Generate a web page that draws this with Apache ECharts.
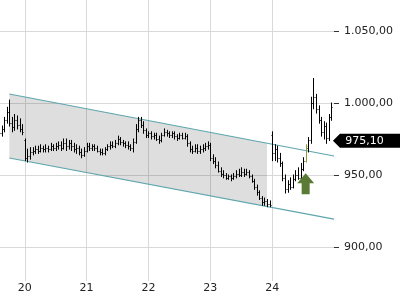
<!DOCTYPE html>
<html><head><meta charset="utf-8">
<script src="https://cdn.jsdelivr.net/npm/echarts@6/dist/echarts.min.js"></script>
<style>html,body{margin:0;padding:0;background:#fff}#c{width:400px;height:300px}</style>
</head><body><div id="c"></div>
<script>
// time slots (hourly bars), day tick labels
const dayLabels = ['20', '21', '22', '23', '24'];
const firstDay = 19, firstHour = 14, slotCount = 131;

// OHLC values
const opens = [980,979,982,988,994,986,983,988,985,982,
  974,962,963,966,967,968,967,969,968,969,968,970,969,970,971,969,972,970,972,970,968,969,966,964,
  967,970,969,970,969,967,966,965,968,970,971,970,972,975,973,972,971,970,969,973,982,988,985,981,
  978,979,977,978,975,974,978,980,979,978,979,977,976,978,976,977,972,968,967,969,967,968,969,970,
  971,962,960,957,953,951,950,948,949,948,949,951,950,952,951,952,949,946,942,938,934,931,932,930,
  978,965,968,962,958,948,940,944,942,947,950,948,954,960,969,974,1000,1004,996,988,980,984,976,990];
const closes = [979,982,988,994,986,983,988,985,982,980,
  962,963,966,967,968,967,969,968,969,968,970,969,970,971,969,972,970,972,970,968,969,966,964,967,
  970,969,970,969,967,966,965,968,970,971,970,972,975,973,972,971,970,969,973,982,988,985,981,978,
  979,977,978,975,974,978,980,979,978,979,977,976,978,976,977,972,968,967,969,967,968,969,970,971,
  962,960,957,953,951,950,948,949,948,949,951,950,952,951,952,949,946,942,938,934,931,932,930,929,
  965,968,962,958,948,940,944,942,947,950,948,954,960,970,974,1000,1004,996,988,980,984,976,990,997];
const lows = [977,977,980,986,984,980,981,982,980,978,
  960,959,961,964,965,965,966,966,966,966,967,967,967,968,967,968,967,968,967,966,965,964,962,963,
  966,967,967,967,966,964,964,964,967,968,969,969,971,971,970,969,968,967,966,972,980,983,979,976,
  976,975,975,974,972,973,977,977,976,976,975,974,975,975,975,970,966,965,966,965,965,966,967,968,
  960,958,955,952,949,948,947,947,946,947,948,949,949,949,950,948,945,940,936,933,929,929,928,928,
  960,960,959,956,946,937.5,938,940,941,946,947,947,953,959,966,972,996,993,986,977,975,972,974,988];
const highs = [982,984,990,997,1002,990,992,991,989,985,
  975,968,969,969,970,970,971,970,971,970,972,971,972,973,973,975,975,974,974,972,971,970,968,969,
  972,972,971,971,970,968,968,969,971,973,973,974,977,976,974,973,973,971,975,985,990,990,987,982,
  980,980,979,979,977,979,982,981,980,980,980,978,979,979,979,978,973,970,971,971,970,971,972,973,
  972,964,962,959,955,953,951,950,950,951,953,954,955,954,954,953,950,947,943,939,935,934,933,932,
  980,971,970,965,959,950,946,948,950,953,955,958,962,971,976,1004,1017,1006,998,990,987,986,992,1000];
const signalIndex = 119;

// channel (trend lines) and markers
const channelIdx = [4, 130];
const channelUpper = [1006.25, 963.2];
const channelLower = [961.8, 919.4];
const shadeEndIdx = 104;
const lastPrice = 975.10;
const arrowAt = [119, 944];

const categories = [];
for (let i = 0; i < slotCount; i++) {
  const t = firstHour + i;
  const d = firstDay + Math.floor(t / 24), h = t % 24;
  categories.push(d + ' ' + (h < 10 ? '0' : '') + h);
}
const isDayStart = (idx, val) => {
  const [d, h] = String(val).split(' ');
  return h === '00' && dayLabels.indexOf(d) >= 0;
};
function fmtDE(v) {
  const s = Number(v).toFixed(2);
  let [ip, fp] = s.split('.');
  ip = ip.replace(/\B(?=(\d{3})+(?!\d))/g, '.');
  return ip + ',' + fp;
}

const ohlc = opens.map((o, i) => [i, o, closes[i], lows[i], highs[i]]);

const FONT = 'DejaVu Sans';
const chart = echarts.init(document.getElementById('c'), null, { renderer: 'canvas' });
chart.setOption({
  animation: false,
  backgroundColor: '#fff',
  grid: [
    { left: -1, right: 66, top: -41, height: 360, outerBoundsMode: 'none', containLabel: false },
    { left: -1, right: 66, top: 0, bottom: 19, outerBoundsMode: 'none', containLabel: false }
  ],
  xAxis: [
    { type: 'category', data: categories, boundaryGap: false, gridIndex: 0, show: false },
    { type: 'category', data: categories, boundaryGap: false, gridIndex: 1,
      axisLine: { show: false },
      axisTick: { show: false },
      axisLabel: { interval: isDayStart, formatter: v => v.split(' ')[0], margin: 2,
        color: '#222', fontSize: 11, fontFamily: FONT },
      splitLine: { show: true, interval: isDayStart, lineStyle: { color: '#d9d9d9', width: 1 } } },
    { type: 'category', data: categories, boundaryGap: false, gridIndex: 1, offset: 19,
      axisLine: { show: false },
      axisLabel: { show: false },
      axisTick: { show: true, inside: true, length: 6, interval: isDayStart, lineStyle: { color: '#333' } },
      splitLine: { show: false } }
  ],
  yAxis: [
    { type: 'value', gridIndex: 0, position: 'right', min: 850, max: 1100, interval: 50,
      axisLine: { show: false },
      axisTick: { show: true, length: 5, lineStyle: { color: '#333' } },
      axisLabel: { formatter: fmtDE, margin: 10, color: '#222', fontSize: 11, fontFamily: FONT },
      splitLine: { lineStyle: { color: '#d9d9d9', width: 1 } } },
    { type: 'value', gridIndex: 1, show: false, splitLine: { show: false } }
  ],
  series: [
    {
      type: 'custom', xAxisIndex: 0, yAxisIndex: 0, z: 1, silent: true,
      data: [[channelIdx[0], channelUpper[0]]],
      renderItem(params, api) {
        const lerp = (a, i) => a[0] + (a[1] - a[0]) * (i - channelIdx[0]) / (channelIdx[1] - channelIdx[0]);
        const u0 = api.coord([channelIdx[0], channelUpper[0]]);
        const u1 = api.coord([channelIdx[1], channelUpper[1]]);
        const l0 = api.coord([channelIdx[0], channelLower[0]]);
        const l1 = api.coord([channelIdx[1], channelLower[1]]);
        const us = api.coord([shadeEndIdx, lerp(channelUpper, shadeEndIdx)]);
        const ls = api.coord([shadeEndIdx, lerp(channelLower, shadeEndIdx)]);
        return { type: 'group', children: [
          { type: 'polygon', shape: { points: [u0, us, ls, l0] }, style: { fill: 'rgba(0,0,0,0.13)' } },
          { type: 'line', shape: { x1: u0[0], y1: u0[1], x2: u1[0], y2: u1[1] }, style: { stroke: '#5ea6ad', lineWidth: 1.2 } },
          { type: 'line', shape: { x1: l0[0], y1: l0[1], x2: l1[0], y2: l1[1] }, style: { stroke: '#5ea6ad', lineWidth: 1.2 } }
        ] };
      }
    },
    {
      type: 'custom', xAxisIndex: 0, yAxisIndex: 0, z: 3, silent: true,
      encode: { x: 0, y: [1, 2, 3, 4] },
      data: ohlc,
      renderItem(params, api) {
        const i = api.value(0);
        const pO = api.coord([i, api.value(1)]);
        const pC = api.coord([i, api.value(2)]);
        const pL = api.coord([i, api.value(3)]);
        const pH = api.coord([i, api.value(4)]);
        const x = Math.round(pL[0]) + 0.5;
        const col = i === signalIndex ? '#8d9a40' : '#000';
        const st = { stroke: col, lineWidth: 1 };
        return { type: 'group', children: [
          { type: 'line', shape: { x1: x, y1: pH[1] - 0.5, x2: x, y2: pL[1] + 0.5 }, style: st },
          { type: 'line', shape: { x1: x - 1, y1: Math.round(pO[1]) + 0.5, x2: x, y2: Math.round(pO[1]) + 0.5 }, style: st },
          { type: 'line', shape: { x1: x, y1: Math.round(pC[1]) + 0.5, x2: x + 1, y2: Math.round(pC[1]) + 0.5 }, style: st }
        ] };
      },
      markPoint: {
        silent: true,
        data: [
          { coord: arrowAt, symbol: 'path://M8.5,0 L17,10 L12.5,10 L12.5,21 L4.5,21 L4.5,10 L0,10 Z',
            symbolSize: [17, 21], itemStyle: { color: '#5b7a35' }, label: { show: false } },
          { coord: [opens.length - 1, lastPrice], symbol: 'path://M0,7 L7,0 L77,0 L77,14 L7,14 Z',
            symbolSize: [77, 14], symbolOffset: [40, 2], itemStyle: { color: '#000' },
            label: { show: true, position: 'inside', formatter: () => fmtDE(lastPrice), color: '#fff',
              fontSize: 11, fontFamily: FONT, offset: [-7, 0] } }
        ]
      }
    }
  ]
});
</script></body></html>
